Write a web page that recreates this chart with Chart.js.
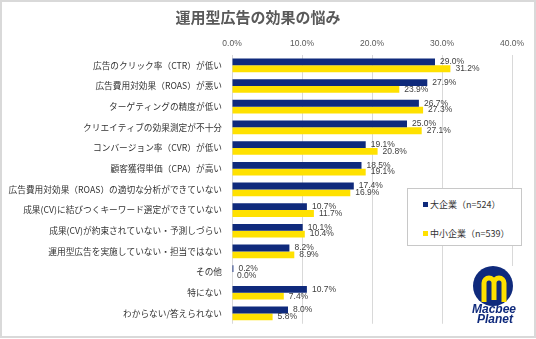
<!DOCTYPE html>
<html lang="ja">
<head>
<meta charset="utf-8">
<script src="https://cdn.jsdelivr.net/npm/chart.js@4.4.1/dist/chart.umd.min.js"></script>
<style>
    html, body { margin: 0; padding: 0; background: #fff; }
    #wrap { position: relative; width: 536px; height: 339px; }
    #leyenda {
        position: absolute; left: 407px; top: 188px; width: 115px; height: 58px;
        background: #fff; border: 1px solid #c8c8c8; box-sizing: border-box;
        font: 9px "Noto Sans CJK JP", sans-serif; color: #333;
    }
    #leyenda .item { position: absolute; left: 15px; display: flex; align-items: center; white-space: nowrap; }
    #leyenda .sq { width: 5px; height: 5px; margin-right: 2px; }
</style>
</head>
<body>
<div id="wrap">
    <canvas id="grafico" width="536" height="339"></canvas>
    <div id="leyenda"></div>
</div>
<script>
    const titulo = '運用型広告の効果の悩み';
    const categorias = [
        '広告のクリック率（CTR）が低い',
        '広告費用対効果（ROAS）が悪い',
        'ターゲティングの精度が低い',
        'クリエイティブの効果測定が不十分',
        'コンバージョン率（CVR）が低い',
        '顧客獲得単価（CPA）が高い',
        '広告費用対効果（ROAS）の適切な分析ができていない',
        '成果(CV)に結びつくキーワード選定ができていない',
        '成果(CV)が約束されていない・予測しづらい',
        '運用型広告を実施していない・担当ではない',
        'その他',
        '特にない',
        'わからない/答えられない'
    ];
    const series = ['大企業（n=524）', '中小企業（n=539）'];
    const grandes = [29.0, 27.9, 26.7, 25.0, 19.1, 18.5, 17.4, 10.7, 10.1, 8.2, 0.2, 10.7, 8.0];
    const pymes = [31.2, 23.9, 27.3, 27.1, 20.8, 19.1, 16.9, 11.7, 10.4, 8.9, 0.0, 7.4, 5.8];
    const colores = ['#0f2a7c', '#ffe100'];

    // marco gris alrededor del gráfico
    const marco = {
        id: 'marco',
        beforeDraw(chart) {
            const ctx = chart.ctx;
            ctx.save();
            ctx.fillStyle = '#fff';
            ctx.fillRect(0, 0, chart.width, chart.height);
            ctx.strokeStyle = '#d9d9d9';
            ctx.lineWidth = 2;
            ctx.strokeRect(1, 1, chart.width - 2, chart.height - 3);
            ctx.restore();
        }
    };

    // etiquetas de porcentaje al final de cada barra
    const etiquetas = {
        id: 'etiquetas',
        afterDatasetsDraw(chart) {
            const ctx = chart.ctx;
            ctx.save();
            ctx.font = '8.5px "Liberation Sans", Arial, sans-serif';
            ctx.fillStyle = '#404040';
            ctx.textBaseline = 'middle';
            chart.data.datasets.forEach((ds, i) => {
                chart.getDatasetMeta(i).data.forEach((bar, j) => {
                    ctx.fillText(ds.data[j].toFixed(1) + '%', bar.x + 5, bar.y);
                });
            });
            ctx.restore();
        }
    };

    // logo abajo a la derecha
    const logo = {
        id: 'logo',
        afterDraw(chart) {
            const ctx = chart.ctx;
            ctx.save();
            ctx.fillStyle = '#fff';
            ctx.fillRect(470, 266, 50, 62);
            ctx.fillStyle = '#0f2a7c';
            ctx.beginPath();
            ctx.arc(493, 286, 20, 0, Math.PI * 2);
            ctx.fill();
            ctx.strokeStyle = '#ffe100';
            ctx.lineWidth = 5;
            ctx.beginPath();
            ctx.moveTo(484, 302);
            ctx.lineTo(484, 283);
            ctx.arc(489, 283, 5, Math.PI, 0);
            ctx.lineTo(494, 300);
            ctx.moveTo(494, 283);
            ctx.arc(499, 283, 5, Math.PI, 0);
            ctx.lineTo(504, 302);
            ctx.stroke();
            ctx.fillStyle = '#0f2a7c';
            ctx.font = 'italic bold 12px "Liberation Sans", Arial, sans-serif';
            ctx.textAlign = 'center';
            ctx.textBaseline = 'middle';
            ctx.fillText('Macbee', 494, 310);
            ctx.fillText('Planet', 495, 320);
            ctx.restore();
        }
    };

    const chart = new Chart(document.getElementById('grafico'), {
        type: 'bar',
        data: {
            labels: categorias,
            datasets: series.map((s, i) => ({
                label: s,
                data: i === 0 ? grandes : pymes,
                backgroundColor: colores[i],
                categoryPercentage: 0.66,
                barPercentage: 1
            }))
        },
        options: {
            indexAxis: 'y',
            responsive: false,
            animation: false,
            layout: { padding: { left: 4, right: 24, bottom: 9 } },
            plugins: {
                legend: { display: false },
                tooltip: { enabled: false },
                title: {
                    display: true,
                    text: titulo,
                    color: '#595959',
                    font: { family: '"Noto Sans CJK JP"', size: 15, weight: 'bold' },
                    padding: { top: 8, bottom: 0 }
                }
            },
            scales: {
                x: {
                    position: 'top',
                    min: 0,
                    max: 40,
                    afterFit: s => { s.height = 29; },
                    border: { display: false },
                    grid: { color: '#d9d9d9', drawTicks: false },
                    ticks: {
                        stepSize: 10,
                        padding: 6,
                        color: '#595959',
                        font: { family: '"Liberation Sans", Arial', size: 8.5 },
                        callback: v => v.toFixed(1) + '%'
                    }
                },
                y: {
                    afterFit: s => { s.width = 228; },
                    border: { display: false },
                    grid: { display: false, drawTicks: false },
                    ticks: {
                        padding: 10,
                        color: '#333',
                        font: { family: '"Noto Sans CJK JP"', size: 8.7 }
                    }
                }
            }
        },
        plugins: [marco, etiquetas, logo]
    });

    // leyenda armada desde los datasets
    const leyenda = document.getElementById('leyenda');
    chart.data.datasets.forEach((ds, i) => {
        const item = document.createElement('div');
        item.className = 'item';
        item.style.top = (i === 0 ? 9 : 38) + 'px';
        item.innerHTML = '<span class="sq" style="background:' + ds.backgroundColor + '"></span>' + ds.label;
        leyenda.appendChild(item);
    });
</script>
</body>
</html>
